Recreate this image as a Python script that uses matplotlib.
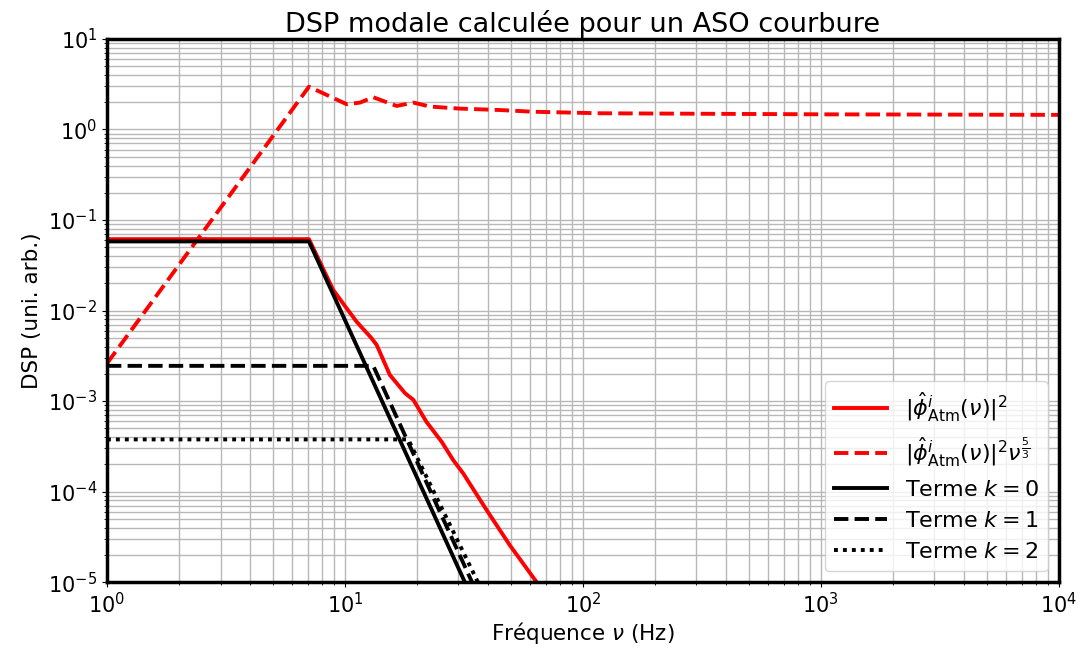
import numpy as np
import matplotlib
matplotlib.use('Agg')
import matplotlib.pyplot as plt
from matplotlib.ticker import NullFormatter

# red solid : |phi|^2
nu_atm = [1.0, 7.06, 8.93, 10.17, 11.2, 12.95, 13.6, 15.45, 17.9, 19.4, 22.0,
          25.5, 28.5, 31.4, 39.4, 49.3, 63.9]
dsp_atm = [0.0615, 0.0615, 0.01686, 0.01057, 0.00752, 0.00493, 0.00416, 0.00194,
           0.00122, 0.00103, 5.9e-4, 3.55e-4, 2.23e-4, 1.59e-4, 6.25e-5, 2.56e-5, 1.0e-5]

# red dashed : |phi|^2 nu^(5/3)
nu_comp = [1.0, 7.06, 10.17, 11.56, 13.15, 16.5, 19.4, 22.8, 30.4, 44.8, 61.7,
           118, 1000, 10000]
dsp_comp = [0.0026, 2.97, 1.90, 1.98, 2.27, 1.82, 1.98, 1.79, 1.70, 1.64, 1.57,
            1.51, 1.47, 1.45]

# black terms
nu_k0 = [1.0, 7.06, 31.9]
dsp_k0 = [0.058, 0.058, 1e-5]
nu_k1 = [1.0, 13.15, 34.2]
dsp_k1 = [0.00245, 0.00245, 1e-5]
nu_k2 = [1.0, 18.45, 36.2]
dsp_k2 = [3.77e-4, 3.77e-4, 1e-5]

fig, ax = plt.subplots(figsize=(10.86, 6.49), dpi=100)

lw = 2.8
ax.loglog(nu_atm, dsp_atm, 'r-', lw=lw, label=r'$|\hat{\phi}^i_{\mathrm{Atm}}(\nu)|^2$')
ax.loglog(nu_comp, dsp_comp, 'r--', lw=lw,
          label=r'$|\hat{\phi}^i_{\mathrm{Atm}}(\nu)|^2\nu^{\frac{5}{3}}$')
ax.loglog(nu_k0, dsp_k0, 'k-', lw=lw, label=r'Terme $k=0$')
ax.loglog(nu_k1, dsp_k1, 'k--', lw=lw, label=r'Terme $k=1$')
ax.loglog(nu_k2, dsp_k2, color='k', ls=(0, (1, 1.3)), lw=lw, label=r'Terme $k=2$')

ax.set_xlim(1, 1e4)
ax.set_ylim(1e-5, 1e1)
ax.xaxis.set_minor_formatter(NullFormatter())
ax.yaxis.set_minor_formatter(NullFormatter())
ax.grid(True, which='both', color='#b8b8b8', lw=1)
ax.set_title('DSP modale calculée pour un ASO courbure', fontsize=19.5, pad=5)
ax.set_xlabel(r'Fréquence $\nu$ (Hz)', fontsize=15.5, labelpad=2)
ax.set_ylabel('DSP (uni. arb.)', fontsize=15.5, labelpad=4)
ax.tick_params(which='major', labelsize=15)
for s in ax.spines.values():
    s.set_linewidth(2.5)
ax.legend(loc='lower right', fontsize=16, handlelength=2.4)

fig.subplots_adjust(left=0.0985, right=0.975, top=0.94, bottom=0.103)
fig.savefig('out.png')
